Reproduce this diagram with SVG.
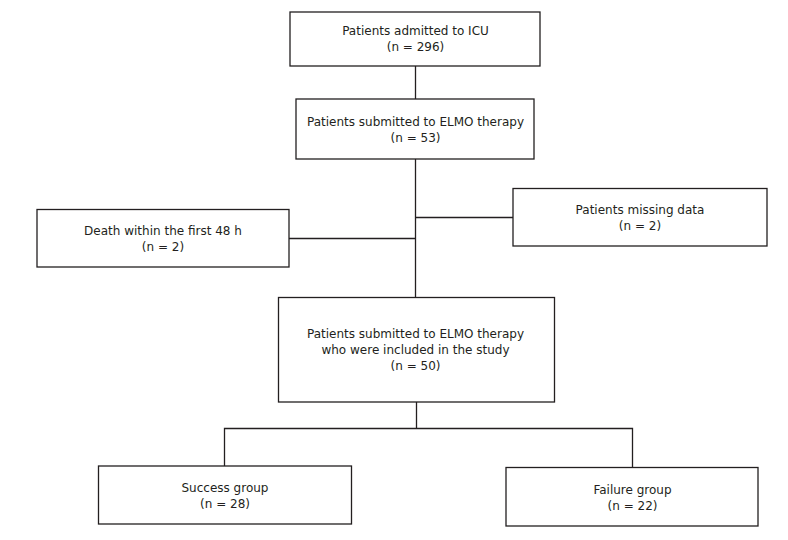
<svg xmlns="http://www.w3.org/2000/svg" width="788" height="540" viewBox="0 0 788 540">
<style>
.box{fill:#fff;stroke:#231f20;stroke-width:1.3}
.ln{fill:none;stroke:#231f20;stroke-width:1.3}
text{font-family:"DejaVu Sans","Verdana",sans-serif;font-size:12px;fill:#231f20;text-anchor:middle}
</style>
<rect width="788" height="540" fill="#fff"/>
<g id="connectors">
<line class="ln" x1="415.5" y1="66" x2="415.5" y2="99"/>
<line class="ln" x1="415.5" y1="159" x2="415.5" y2="297"/>
<line class="ln" x1="415.5" y1="217.5" x2="513" y2="217.5"/>
<line class="ln" x1="289" y1="238.5" x2="415.5" y2="238.5"/>
<polyline class="ln" points="416.5,402 416.5,428.5"/>
<polyline class="ln" points="224.5,466 224.5,428.5 632.5,428.5 632.5,467.5"/>
</g>
<g id="icu">
<rect class="box" x="290" y="12" width="250" height="54"/>
<text x="415.5" y="35">Patients admitted to ICU</text>
<text x="415.5" y="51">(n = 296)</text>
</g>
<g id="elmo">
<rect class="box" x="296" y="99" width="238" height="60"/>
<text x="415.5" y="126">Patients submitted to ELMO therapy</text>
<text x="415.5" y="142">(n = 53)</text>
</g>
<g id="death">
<rect class="box" x="37" y="209.5" width="252" height="57.5"/>
<text x="163" y="235">Death within the first 48 h</text>
<text x="163" y="251">(n = 2)</text>
</g>
<g id="missing">
<rect class="box" x="513" y="188.5" width="254" height="57.5"/>
<text x="640" y="214">Patients missing data</text>
<text x="640" y="230">(n = 2)</text>
</g>
<g id="included">
<rect class="box" x="278.5" y="297.5" width="276" height="104.5"/>
<text x="415.5" y="338">Patients submitted to ELMO therapy</text>
<text x="415.5" y="354">who were included in the study</text>
<text x="415.5" y="370">(n = 50)</text>
</g>
<g id="success">
<rect class="box" x="98.5" y="466" width="253" height="58"/>
<text x="225" y="492">Success group</text>
<text x="225" y="508">(n = 28)</text>
</g>
<g id="failure">
<rect class="box" x="506" y="467.5" width="252" height="58.5"/>
<text x="632.5" y="493.5">Failure group</text>
<text x="632.5" y="509.5">(n = 22)</text>
</g>
</svg>
